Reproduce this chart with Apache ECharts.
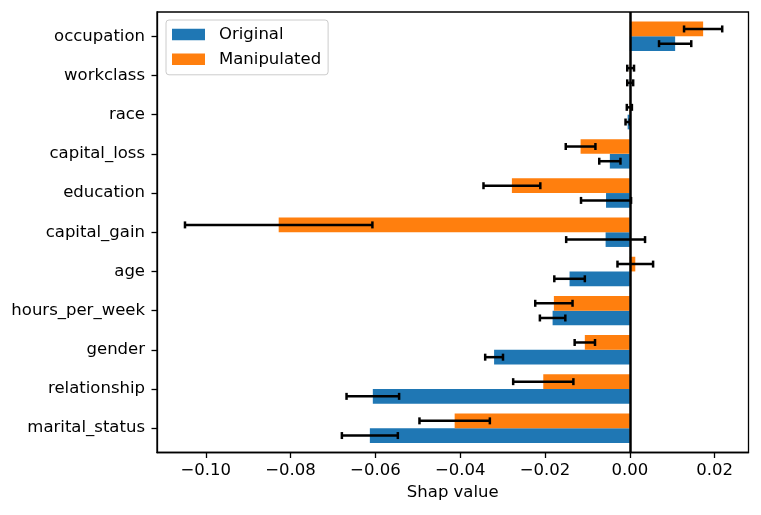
<!DOCTYPE html>
<html><head><meta charset="utf-8">
<script src="https://cdn.jsdelivr.net/npm/echarts@6/dist/echarts.min.js"></script>
<style>html,body{margin:0;padding:0;background:#fff}#c{width:761px;height:515px}</style>
</head><body><div id="c"></div>
<script>
// categories listed bottom to top
const categories = ['marital_status','relationship','gender','hours_per_week','age','capital_gain','education','capital_loss','race','workclass','occupation'];
const original      = [-0.0613, -0.0606, -0.0320, -0.0182, -0.0142, -0.0057, -0.0056, -0.0047, -0.0005, 0.0001, 0.0107];
const originalErr   = [ 0.0066,  0.0062,  0.0021,  0.0030,  0.0036,  0.0093,  0.0059,  0.0025,  0.0005, 0.0007, 0.0038];
const manipulated   = [-0.0413, -0.0204, -0.0106, -0.0179,  0.0013, -0.0828, -0.0278, -0.0116, -0.0001, 0.0002, 0.0173];
const manipulatedErr= [ 0.0083,  0.0071,  0.0024,  0.0044,  0.0042,  0.0221,  0.0067,  0.0035,  0.0006, 0.0008, 0.0045];
const xTicks = [-0.10, -0.08, -0.06, -0.04, -0.02, 0.00, 0.02];
const seriesNames = ['Original', 'Manipulated'];
const xAxisTitle = 'Shap value';

const FONT = 'DejaVu Sans';
const FS = 16.5;
const BAR_H = 0.375;
const BLUE = '#1f77b4', ORANGE = '#ff7f0e';

function toData(vals, errs) {
  return vals.map((v, i) => [v, i, errs[i]]);
}

function barRender(offset) {
  return function (params, api) {
    const v = api.value(0), y = api.value(1);
    const p0 = api.coord([0, y + offset + BAR_H / 2]);
    const p1 = api.coord([v, y + offset - BAR_H / 2]);
    return {
      type: 'rect',
      shape: { x: Math.min(p0[0], p1[0]), y: p0[1], width: Math.abs(p1[0] - p0[0]), height: p1[1] - p0[1] },
      style: { fill: api.visual('color') }
    };
  };
}

function errRender(offset) {
  return function (params, api) {
    const v = api.value(0), y = api.value(1), e = api.value(2);
    const a = api.coord([v - e, y + offset]);
    const b = api.coord([v + e, y + offset]);
    const cap = 3.5;
    const st = { stroke: '#000', lineWidth: 2.5 };
    return {
      type: 'group',
      children: [
        { type: 'line', shape: { x1: a[0], y1: a[1], x2: b[0], y2: b[1] }, style: st },
        { type: 'line', shape: { x1: a[0], y1: a[1] - cap, x2: a[0], y2: a[1] + cap }, style: st },
        { type: 'line', shape: { x1: b[0], y1: b[1] - cap, x2: b[0], y2: b[1] + cap }, style: st }
      ]
    };
  };
}

const chart = echarts.init(document.getElementById('c'), null, { renderer: 'canvas' });
const axisColor = '#000';
chart.setOption({
  animation: false,
  backgroundColor: '#fff',
  textStyle: { fontFamily: FONT },
  grid: { left: 157, right: 12.5, top: 12, bottom: 62.5, show: true, borderColor: '#000', borderWidth: 1.3, backgroundColor: 'transparent' },
  legend: {
    data: seriesNames,
    orient: 'vertical',
    left: 166, top: 20,
    icon: 'rect',
    itemWidth: 33, itemHeight: 11.5,
    itemGap: 7.8,
    padding: [6, 7, 7, 6],
    backgroundColor: 'rgba(255,255,255,0.8)',
    borderColor: '#cccccc', borderWidth: 1, borderRadius: 3,
    textStyle: { fontFamily: FONT, fontSize: FS, color: '#000', padding: [0, 0, 0, 9] }
  },
  xAxis: {
    type: 'value',
    min: -0.1115, max: 0.028,
    name: xAxisTitle, nameLocation: 'middle', nameGap: 32,
    nameTextStyle: { fontFamily: FONT, fontSize: FS, color: '#000' },
    axisLine: { show: true, onZero: false, lineStyle: { color: axisColor, width: 1.3 } },
    axisTick: { show: true, length: 5.5, customValues: xTicks, lineStyle: { color: axisColor, width: 1.3 } },
    axisLabel: {
      customValues: xTicks, margin: 10, color: '#000', fontFamily: FONT, fontSize: FS,
      formatter: v => (v < -1e-9 ? '\u2212' : '') + Math.abs(v).toFixed(2)
    },
    splitLine: { show: false }
  },
  yAxis: {
    type: 'value',
    min: -0.62, max: 10.62,
    axisLine: { show: true, onZero: false, lineStyle: { color: axisColor, width: 1.3 } },
    axisTick: { show: true, length: 5.5, customValues: categories.map((c, i) => i), lineStyle: { color: axisColor, width: 1.3 } },
    axisLabel: {
      customValues: categories.map((c, i) => i), margin: 12, color: '#000', fontFamily: FONT, fontSize: FS,
      formatter: v => categories[Math.round(v)]
    },
    splitLine: { show: false }
  },
  series: [
    { name: seriesNames[0], type: 'custom', renderItem: barRender(-BAR_H / 2), data: toData(original, originalErr), itemStyle: { color: BLUE }, z: 2, encode: { x: 0, y: 1 } },
    { name: seriesNames[1], type: 'custom', renderItem: barRender(BAR_H / 2), data: toData(manipulated, manipulatedErr), itemStyle: { color: ORANGE }, z: 2, encode: { x: 0, y: 1 } },
    { name: 'err0', type: 'custom', renderItem: errRender(-BAR_H / 2), data: toData(original, originalErr), z: 3, encode: { x: 0, y: 1 } },
    { name: 'err1', type: 'custom', renderItem: errRender(BAR_H / 2), data: toData(manipulated, manipulatedErr), z: 3, encode: { x: 0, y: 1 },
      markLine: { silent: true, symbol: 'none', label: { show: false }, lineStyle: { color: '#000', width: 2.5, type: 'solid' }, data: [{ xAxis: 0 }] } }
  ]
});
</script>
</body></html>
